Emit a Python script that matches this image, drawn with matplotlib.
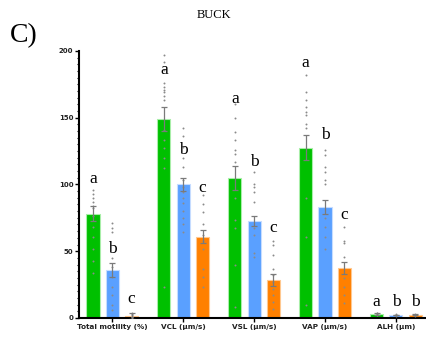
import numpy as np
import matplotlib
matplotlib.use("Agg")
import matplotlib.pyplot as plt
from matplotlib.ticker import MultipleLocator

params = ['Total motility (%)', 'VCL (µm/s)', 'VSL (µm/s)', 'VAP (µm/s)', 'ALH (µm)']
groups = ['g1', 'g2', 'g3']
colors = ['#00c000', '#5aa0ff', '#ff8000']
edges = ['#a8eea8', '#c6dcff', '#ffc890']

# bar means and SEM
mean_g1 = [78, 149, 105, 127.5, 3.0]
mean_g2 = [36, 100, 72.5, 83, 2.2]
mean_g3 = [1.5, 61, 28.5, 37.5, 2.3]
sem_g1 = [5.5, 9, 9, 9.5, 0.4]
sem_g2 = [5, 5, 4, 5, 0.3]
sem_g3 = [2.5, 5, 4.5, 4.5, 0.4]

# individual points (gray dots)
pts_g1 = [
    [96, 93, 90, 87, 84, 82, 76, 68, 61, 52, 43, 34],
    [197, 192, 186, 176, 173, 171, 169, 166, 163, 141, 133, 127, 120, 112, 23],
    [160, 150, 139, 133, 126, 123, 117, 90, 73, 67, 40, 8],
    [182, 169, 163, 158, 154, 152, 145, 142, 90, 61, 10],
    [4.0, 3.5, 3.0, 2.5, 2.0],
]
pts_g2 = [
    [71, 67, 64, 45, 38, 31, 23, 17, 10, 6],
    [142, 136, 128, 120, 113, 103, 98, 94, 90, 86, 80, 75, 70, 64],
    [109, 98, 100, 94, 87, 67, 62, 49, 46],
    [126, 122, 113, 109, 103, 100, 75, 68, 61, 52],
    [2.8, 2.4, 2.0, 1.6],
]
pts_g3 = [
    [4, 3, 2, 1, 0.5, 0],
    [92, 85, 79, 70, 62, 58, 52, 37, 31, 23],
    [58, 55, 47, 37, 32, 27, 22, 17, 12, 7],
    [68, 58, 56, 46, 30, 23, 17, 11],
    [3.2, 2.6, 2.0, 1.5],
]

# significance letters and their heights
letters_g1 = ['a', 'a', 'a', 'a', 'a']
letters_g2 = ['b', 'b', 'b', 'b', 'b']
letters_g3 = ['c', 'c', 'c', 'c', 'b']
lety_g1 = [104, 186, 164, 191, 12]
lety_g2 = [52, 126, 117, 137, 12]
lety_g3 = [14, 97, 67, 77, 12]

means = [mean_g1, mean_g2, mean_g3]
sems = [sem_g1, sem_g2, sem_g3]
pts = [pts_g1, pts_g2, pts_g3]
letters = [letters_g1, letters_g2, letters_g3]
lety = [lety_g1, lety_g2, lety_g3]

fig = plt.figure(figsize=(4.27, 3.39), dpi=100)
ax = fig.add_axes([0.185, 0.062, 0.812, 0.788])

x = np.arange(len(params))
step = 0.272
width = 0.185

for i in range(3):
    xi = x + (i - 1) * step
    ax.bar(xi, means[i], width, color=colors[i], edgecolor=edges[i], linewidth=0.8, zorder=2)
    ax.errorbar(xi, means[i], yerr=sems[i], fmt='none', ecolor='#7a7a7a',
                elinewidth=0.9, capsize=2.5, capthick=0.9, zorder=4)
    for j in range(len(params)):
        ax.scatter([xi[j]] * len(pts[i][j]), pts[i][j], s=2.0, color='#8a8a8a', zorder=3, linewidths=0)
        ax.text(xi[j], lety[i][j], letters[i][j], ha='center', va='center',
                fontsize=12.5, family='Liberation Serif', zorder=5)

ax.set_ylim(0, 200)
ax.set_xlim(-0.47, 4.42)
ax.yaxis.set_major_locator(MultipleLocator(50))
ax.yaxis.set_minor_locator(MultipleLocator(5))
ax.set_xticks(x)
ax.set_xticklabels(params, fontsize=5.2, fontweight='bold', color='#222222')
ax.tick_params(axis='y', labelsize=5, width=1.0, length=3, pad=1, labelcolor='#222222')
ax.tick_params(axis='y', which='minor', width=0.8, length=1.8)
ax.tick_params(axis='x', width=1.0, length=3, pad=1)
for lbl in ax.get_yticklabels():
    lbl.set_fontweight('bold')

ax.spines['top'].set_visible(False)
ax.spines['right'].set_visible(False)
ax.spines['left'].set_linewidth(1.5)
ax.spines['bottom'].set_linewidth(1.5)

fig.text(0.5, 0.955, 'BUCK', ha='center', va='center', fontsize=9, family='Liberation Serif')
fig.text(0.022, 0.895, 'C)', ha='left', va='center', fontsize=20, family='Liberation Serif')

fig.savefig('out.png', dpi=100)
